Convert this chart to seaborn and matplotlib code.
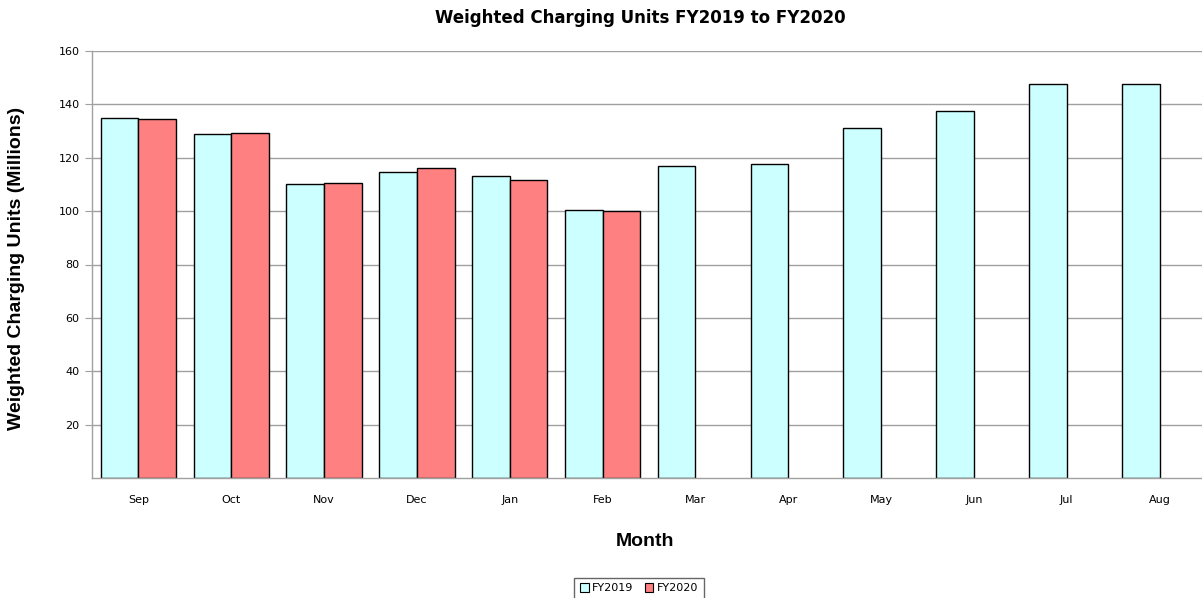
import matplotlib
matplotlib.use("Agg")
import matplotlib.pyplot as plt
import numpy as np
import pandas as pd
import seaborn as sns

# ── Data ──────────────────────────────────────────────────────────────
MONTHS = ["Sep", "Oct", "Nov", "Dec", "Jan", "Feb", "Mar", "Apr", "May", "Jun", "Jul", "Aug"]
FY2019 = [134.9, 128.9, 110.2, 114.8, 113.0, 100.4, 116.9, 117.8, 131.3, 137.7, 147.6, 147.6]
FY2020 = [134.5, 129.4, 110.5, 116.1, 111.5, 100.0, np.nan, np.nan, np.nan, np.nan, np.nan, np.nan]
Y_TICKS = [20, 40, 60, 80, 100, 120, 140, 160]

CYAN = "#CCFFFF"
SALMON = "#FF8080"
GRID = "#A0A0A0"

df = pd.DataFrame({
    "Month": MONTHS * 2,
    "Value": FY2019 + FY2020,
    "Year": ["FY2019"] * len(MONTHS) + ["FY2020"] * len(MONTHS),
})

sns.set_style("white")
plt.rcParams["font.family"] = ["DejaVu Sans"]
plt.rcParams["text.color"] = "black"
plt.rcParams["xtick.color"] = "black"
plt.rcParams["ytick.color"] = "black"

fig = plt.figure(figsize=(12.02, 5.98), dpi=100)
ax = fig.add_axes([92 / 1202, 1 - 478 / 598, (1206 - 92) / 1202, (478 - 51) / 598])

sns.barplot(
    data=df, x="Month", y="Value", hue="Year", order=MONTHS,
    palette={"FY2019": CYAN, "FY2020": SALMON},
    width=0.81, edgecolor="black", linewidth=1.0, saturation=1, ax=ax,
    legend=False,
)

ax.set_ylim(0, 160)
ax.set_xlim(-0.5, len(MONTHS) - 0.5)
ax.set_yticks(Y_TICKS)
ax.yaxis.grid(True, color=GRID, linewidth=1)
ax.set_axisbelow(True)
for side in ("top", "right"):
    ax.spines[side].set_visible(False)
for side in ("left", "bottom"):
    ax.spines[side].set_color(GRID)
    ax.spines[side].set_linewidth(1)
ax.tick_params(axis="y", length=5, color=GRID, labelcolor="black", labelsize=8, pad=4, left=True)
ax.tick_params(axis="x", length=0, labelcolor="black", labelsize=8, pad=12)
ax.set_xlabel("")
ax.set_ylabel("")

fig.text(640 / 1202, 1 - 18 / 598, "Weighted Charging Units FY2019 to FY2020",
         ha="center", va="center", fontsize=12, fontweight="bold", color="black")
fig.text(17 / 1202, 1 - 268 / 598, "Weighted Charging Units (Millions)",
         ha="center", va="center", rotation=90, fontsize=14, fontweight="bold",
         family=["Liberation Sans"], color="black")
fig.text(645 / 1202, 1 - 541 / 598, "Month",
         ha="center", va="center", fontsize=14, fontweight="bold",
         family=["Liberation Sans"], color="black")

handles = [plt.Rectangle((0, 0), 1, 1, facecolor=c, edgecolor="black", linewidth=0.8)
           for c in (CYAN, SALMON)]
fig.legend(handles, ["FY2019", "FY2020"], loc="upper center", bbox_to_anchor=(639 / 1202, 1 - 572 / 598),
           ncol=2, fontsize=8, frameon=True, fancybox=False, edgecolor="#404040",
           handlelength=0.8, handleheight=0.8, handletextpad=0.3, columnspacing=1.0,
           borderpad=0.5)

fig.savefig("out.png", dpi=100)
